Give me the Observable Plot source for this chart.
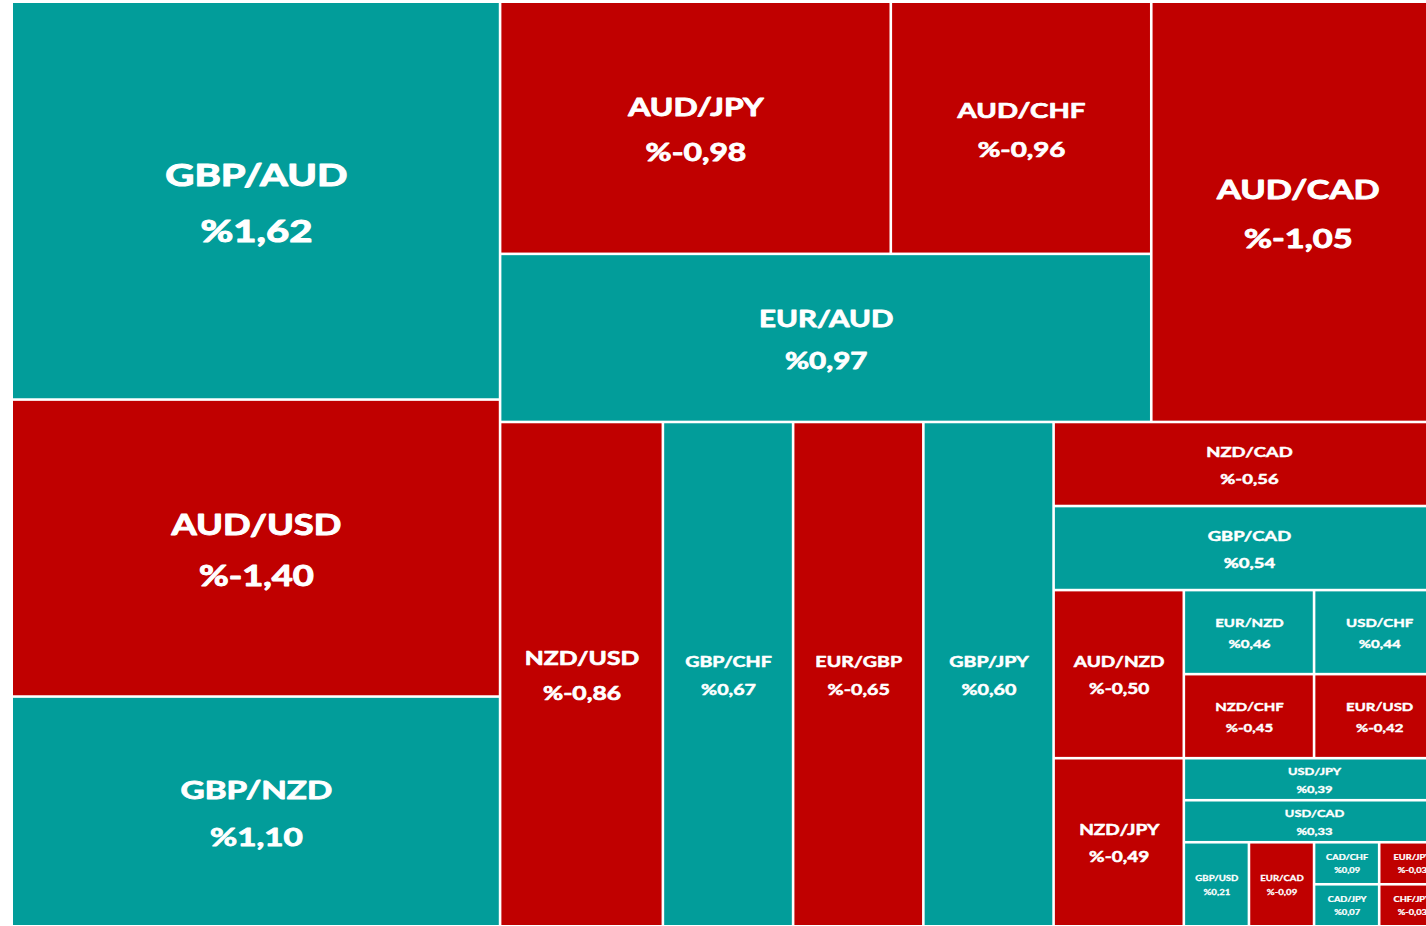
<!DOCTYPE html>
<html><head><meta charset="utf-8">
<script src="https://cdn.jsdelivr.net/npm/d3@7"></script>
<script src="https://cdn.jsdelivr.net/npm/@observablehq/plot@0.6"></script>
<style>
html,body{margin:0;padding:0;background:#fff;overflow:hidden;}
</style></head><body><div id="chart"></div>
<script>
// Currency pairs, ordered by absolute % change
const pairs = ["GBP/AUD","AUD/USD","GBP/NZD","AUD/CAD","AUD/JPY","EUR/AUD","AUD/CHF",
  "NZD/USD","GBP/CHF","EUR/GBP","GBP/JPY","NZD/CAD","GBP/CAD","AUD/NZD","NZD/JPY",
  "EUR/NZD","NZD/CHF","USD/CHF","EUR/USD","USD/JPY","USD/CAD","GBP/USD","EUR/CAD",
  "CAD/CHF","CAD/JPY","EUR/JPY","CHF/JPY"];
// % change shown in each tile
const changes = [1.62,-1.40,1.10,-1.05,-0.98,0.97,-0.96,
  -0.86,0.67,-0.65,0.60,-0.56,0.54,-0.50,-0.49,
  0.46,-0.45,0.44,-0.42,0.39,0.33,0.21,-0.09,
  0.09,0.07,-0.03,-0.03];
// tile size weights (estimated from the tile areas)
const weights = [71,53,41,45,36,40,24,
  30,24,24,24,12,12,8,8,
  4,4,4,4,4,4,2,2,
  1,1,1,1];
// nesting of the tiles: "x" = children side by side, "y" = stacked; numbers index the pairs
const tiling = ["x",
  ["y",0,1,2],
  ["y",
    ["x",["y",["x",4,6],5],3],
    ["x",7,8,9,10,
      ["y",11,12,
        ["x",
          ["y",13,14],
          ["y",["x",["y",15,16],["y",17,18]],19,20,["x",21,22,["y",23,24],["y",25,26]]]
        ]
      ]
    ]
  ]
];

const W = 1430, H = 922, X0 = 13, Y0 = 3;
const teal = "#029d9a", red = "#c00000";
const fontFamily = "Lato, 'Open Sans', sans-serif";

const root = d3.hierarchy(tiling, d => Array.isArray(d) ? d.slice(1) : null)
  .sum(d => Array.isArray(d) ? 0 : weights[d]);
d3.treemap().size([W, H]).paddingInner(2.6).round(false)
  .tile((node, x0, y0, x1, y1) => (node.data[0] === "x" ? d3.treemapDice : d3.treemapSlice)(node, x0, y0, x1, y1))(root);

const capRatio = 0.1675;
const ctx = document.createElement("canvas").getContext("2d");
ctx.font = `bold 100px ${fontFamily}`;
const wEm = ctx.measureText("GBP/AUD").width / 100;
const sx = 1 / (capRatio * wEm);

const cells = root.leaves().map(n => {
  const w = n.x1 - n.x0, h = n.y1 - n.y0, s = Math.sqrt(w * h);
  const T = Math.min(3.02 * Math.pow(s, 0.674), 0.7 * w, 35 + 0.6 * h);
  return {name: pairs[n.data], change: changes[n.data], x0: n.x0, x1: n.x1, y0: n.y0, y1: n.y1, fs: capRatio * T};
});
const fmt = v => "%" + v.toFixed(2).replace(".", ",");

const chart = Plot.plot({
  width: 1426, height: 926, margin: 0,
  x: {domain: [0, W], range: [X0, X0 + W], axis: null},
  y: {domain: [0, H], range: [Y0, Y0 + H], axis: null},
  color: {type: "threshold", domain: [0], range: [red, teal]},
  style: {background: "white"},
  marks: [
    Plot.rect(cells, {x1: "x0", x2: "x1", y1: "y0", y2: "y1", fill: "change", clip: true}),
    Plot.text(cells, {
      x: d => (d.x0 + d.x1) / 2, y: d => (d.y0 + d.y1) / 2 - 0.17 * d.fs,
      text: d => `${d.name}\n${fmt(d.change)}`,
      fontSize: d => d.fs, fill: "white", stroke: "white", strokeWidth: d => 0.035 * d.fs,
      fontWeight: "bold", fontFamily,
      lineHeight: 1.86, lineAnchor: "middle", clip: true
    })
  ]
});
chart.querySelectorAll("text").forEach(t => {
  const tr = t.getAttribute("transform") || "";
  t.setAttribute("transform", tr + ` scale(${sx.toFixed(3)},1)`);
});
document.getElementById("chart").appendChild(chart);
</script></body></html>
